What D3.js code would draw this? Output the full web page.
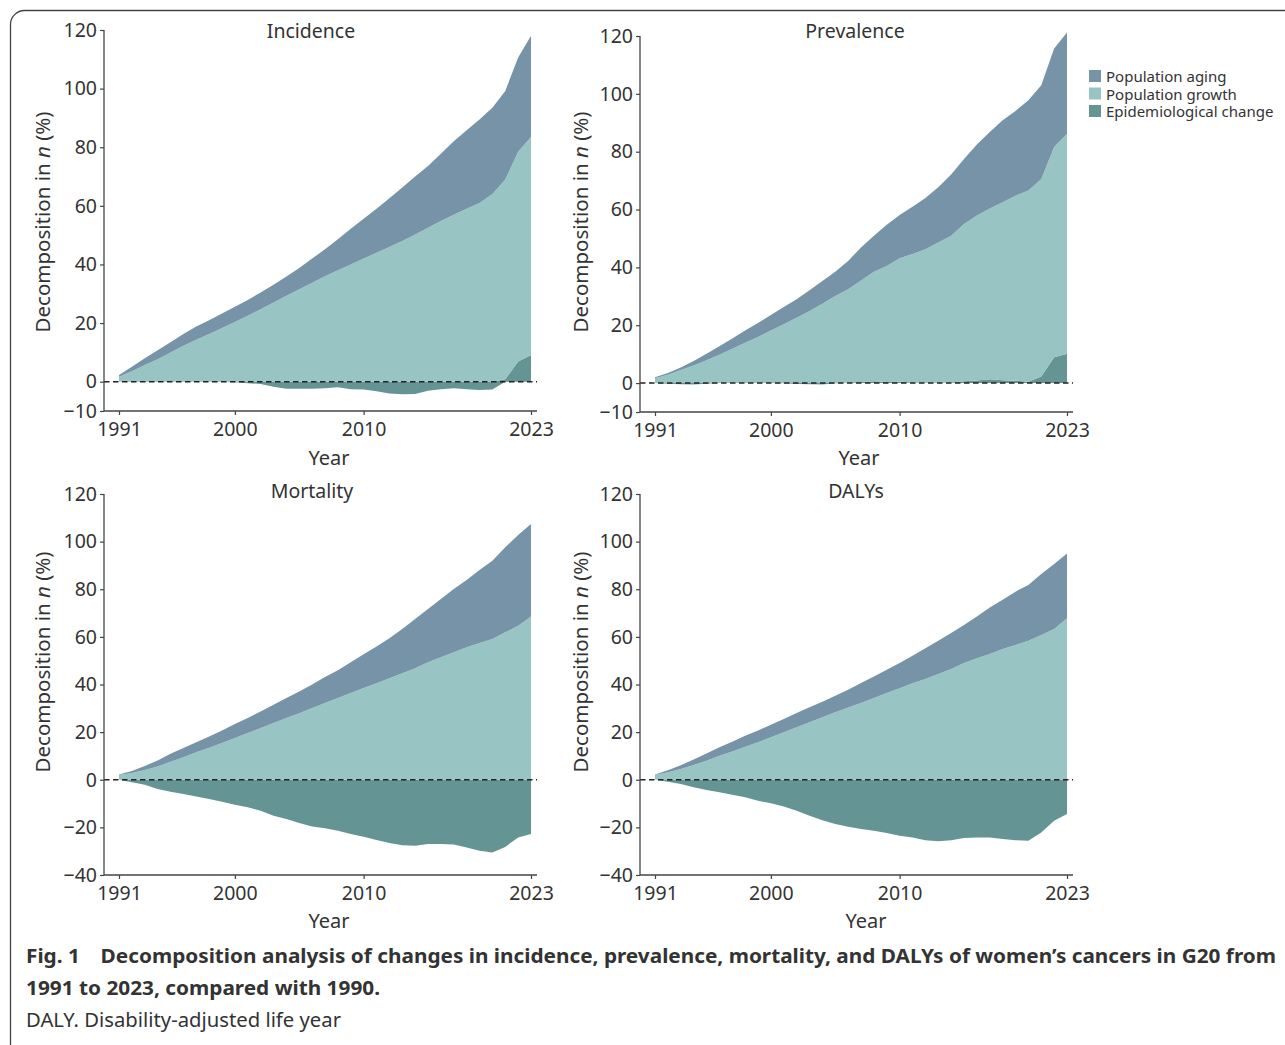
<!DOCTYPE html>
<html>
<head>
<meta charset="utf-8">
<script src="https://cdn.jsdelivr.net/npm/d3@7"></script>
<style>
  body { margin: 0; background: #fff; }
  svg { display: block; }
  text { font-family: "Noto Sans", "Open Sans", sans-serif; fill: #333; }
</style>
</head>
<body>
<svg id="chart" width="1285" height="1045"></svg>
<script>
// years on the x axis
const years = [1991, 1992, 1993, 1994, 1995, 1996, 1997, 1998, 1999, 2000,
  2001, 2002, 2003, 2004, 2005, 2006, 2007, 2008, 2009, 2010,
  2011, 2012, 2013, 2014, 2015, 2016, 2017, 2018, 2019, 2020,
  2021, 2022, 2023];

const seriesNames = ["Population aging", "Population growth", "Epidemiological change"];
const xTicks = [1991, 2000, 2010, 2023];
const yTicksTop = [-10, 0, 20, 40, 60, 80, 100, 120];
const yTicksBottom = [-40, -20, 0, 20, 40, 60, 80, 100, 120];

// Incidence
const incAging = [0.6, 1.5, 2.3, 3.0, 3.5, 4.0, 4.5, 4.7, 5.0, 5.2, 5.4, 5.7, 6.1, 6.6, 7.3, 8.2, 9.2,
  10.6, 12.2, 13.6, 15.0, 16.6, 18.3, 19.8, 21.1, 23.0, 25.0, 26.8, 28.5, 29.5, 30.2, 32.1, 34.5];
const incGrowth = [1.7, 3.6, 5.7, 7.7, 10.0, 12.3, 14.3, 16.3, 18.3, 20.4, 22.5, 24.7, 27.0, 29.3, 31.5, 33.8, 36.0,
  38.0, 40.0, 42.0, 44.0, 46.0, 48.0, 50.2, 52.5, 54.8, 57.0, 59.0, 61.0, 64.0, 68.2, 71.6, 74.4];
const incEpi = [0, -0.1, -0.1, -0.1, 0, 0, 0, 0, -0.1, -0.2, -0.5, -0.8, -1.7, -2.4, -2.4, -2.4, -2.2,
  -1.9, -2.6, -2.7, -3.3, -4.0, -4.3, -4.2, -3.1, -2.6, -2.2, -2.6, -2.8, -2.7, 0.8, 6.9, 9.1];

// Prevalence
const prvAging = [0.3, 0.6, 0.9, 1.5, 2.2, 2.9, 3.5, 4.3, 4.9, 5.3, 6.0, 6.4, 7.2, 7.9, 8.4, 9.8, 11.4,
  12.4, 14.2, 14.9, 16.4, 17.7, 19.1, 21.2, 22.5, 24.6, 26.4, 28.4, 29.3, 31.2, 32.4, 34.1, 35.0];
const prvGrowth = [1.7, 2.9, 4.5, 6.1, 7.9, 9.8, 11.9, 13.9, 15.9, 18.2, 20.3, 22.6, 24.9, 27.4, 30.1, 32.2, 35.1,
  37.9, 40.1, 42.7, 44.4, 46.3, 48.6, 50.7, 54.4, 57.0, 59.1, 61.5, 64.0, 66.1, 68.3, 72.7, 76.1];
const prvEpi = [0, -0.2, -0.4, -0.5, -0.2, 0, 0, 0, 0, 0, -0.1, -0.3, -0.4, -0.5, -0.1, 0.2, 0.4,
  0.6, 0.4, 0.5, 0.2, 0, 0, 0.2, 0.6, 0.9, 1.3, 1.0, 0.8, 0.5, 2.3, 8.9, 10.1];

// Mortality
const morAging = [0.2, 0.9, 1.7, 2.5, 3.3, 3.9, 4.3, 4.8, 5.3, 5.9, 6.3, 7.0, 7.7, 8.4, 9.2, 9.9, 10.9,
  11.7, 12.9, 14.2, 15.5, 16.8, 18.6, 20.7, 22.4, 24.5, 26.6, 28.3, 30.7, 32.9, 35.7, 38.1, 38.8];
const morGrowth = [2.0, 2.8, 4.1, 5.6, 7.6, 9.4, 11.5, 13.4, 15.4, 17.5, 19.6, 21.7, 23.8, 25.9, 27.9, 30.1, 32.2,
  34.3, 36.4, 38.5, 40.5, 42.6, 44.7, 46.8, 49.3, 51.4, 53.5, 55.6, 57.4, 59.1, 61.9, 64.7, 68.6];
const morEpi = [0, -1.1, -2.1, -3.9, -5.0, -6.0, -7.0, -8.1, -9.2, -10.5, -11.6, -13.0, -15.1, -16.5, -18.2, -19.6, -20.4,
  -21.4, -22.8, -23.9, -25.3, -26.6, -27.5, -27.7, -27.0, -27.0, -27.2, -28.4, -29.8, -30.5, -28.2, -24.2, -22.8];

// DALYs
const dalAging = [0.2, 0.9, 1.6, 2.3, 3.0, 3.6, 4.1, 4.6, 5.0, 5.2, 5.6, 6.0, 6.3, 6.6, 7.0, 7.5, 8.4,
  9.1, 9.8, 10.6, 11.6, 12.9, 14.0, 15.1, 16.0, 17.6, 19.5, 20.7, 22.4, 23.4, 25.6, 27.3, 27.2];
const dalGrowth = [2.0, 3.1, 4.5, 6.2, 8.0, 10.1, 11.9, 13.9, 15.7, 17.9, 19.9, 22.0, 24.1, 26.2, 28.3, 30.3, 32.2,
  34.3, 36.4, 38.4, 40.5, 42.3, 44.4, 46.5, 49.0, 51.0, 52.8, 54.9, 56.6, 58.4, 60.8, 63.3, 67.8];
const dalEpi = [0, -0.8, -1.8, -3.2, -4.3, -5.3, -6.3, -7.4, -8.8, -9.9, -11.2, -13.0, -15.1, -17.0, -18.6, -19.7, -20.7,
  -21.4, -22.4, -23.5, -24.2, -25.4, -25.8, -25.4, -24.5, -24.2, -24.2, -24.9, -25.4, -25.6, -22.1, -17.2, -14.4];

const colors = { aging: "#7793a7", growth: "#99c4c4", epi: "#649594" };

const panels = [
  { title: "Incidence", aging: incAging, growth: incGrowth, epi: incEpi, yDomain: [-10, 120], yTicks: yTicksTop,
    left: 104, x0: 119, x1: 531, xEnd: 537, yTop: 30, yBot: 411, titleX: 311, titleY: 30, yearX: 329, yearY: 457, labX: 42, labY: 222 },
  { title: "Prevalence", aging: prvAging, growth: prvGrowth, epi: prvEpi, yDomain: [-10, 120], yTicks: yTicksTop,
    left: 640, x0: 655, x1: 1067, xEnd: 1073, yTop: 36, yBot: 412, titleX: 855, titleY: 30, yearX: 859, yearY: 457, labX: 580, labY: 222 },
  { title: "Mortality", aging: morAging, growth: morGrowth, epi: morEpi, yDomain: [-40, 120], yTicks: yTicksBottom,
    left: 104, x0: 119, x1: 531, xEnd: 537, yTop: 494, yBot: 875, titleX: 312, titleY: 490, yearX: 329, yearY: 920, labX: 42, labY: 662 },
  { title: "DALYs", aging: dalAging, growth: dalGrowth, epi: dalEpi, yDomain: [-40, 120], yTicks: yTicksBottom,
    left: 640, x0: 655, x1: 1067, xEnd: 1073, yTop: 494, yBot: 875, titleX: 856, titleY: 490, yearX: 866, yearY: 920, labX: 580, labY: 662 }
];

const svg = d3.select("#chart");

// frame around the figure
svg.append("rect")
  .attr("x", 10.5).attr("y", 10.5)
  .attr("width", 1320).attr("height", 1060)
  .attr("rx", 14)
  .attr("fill", "none")
  .attr("stroke", "#444")
  .attr("stroke-width", 1.3);

const stack = d3.stack()
  .keys(["epi", "growth", "aging"])
  .offset(d3.stackOffsetDiverging);

panels.forEach(function (p) {
  let rows = years.map((yr, i) => ({ year: yr, aging: p.aging[i], growth: p.growth[i], epi: p.epi[i] }));
  let layers = stack(rows);

  let x = d3.scaleLinear().domain([years[0], years[years.length - 1]]).range([p.x0, p.x1]);
  let y = d3.scaleLinear().domain(p.yDomain).range([p.yBot, p.yTop]);

  let area = d3.area()
    .x(d => x(d.data.year))
    .y0(d => y(d[0]))
    .y1(d => y(d[1]));

  let g = svg.append("g");

  g.selectAll("path.layer")
    .data(layers)
    .enter()
    .append("path")
    .attr("class", "layer")
    .attr("d", area)
    .attr("fill", d => colors[d.key]);

  // zero reference line
  g.append("line")
    .attr("x1", p.left).attr("x2", p.xEnd)
    .attr("y1", y(0)).attr("y2", y(0))
    .attr("stroke", "#222")
    .attr("stroke-width", 1.5)
    .attr("stroke-dasharray", "5.5,3.5");

  // y axis
  let yAxis = g.append("g")
    .attr("transform", "translate(" + p.left + ",0)")
    .call(d3.axisLeft(y).tickValues(p.yTicks).tickSize(4).tickPadding(3).tickSizeOuter(0));
  yAxis.select(".domain").remove();
  yAxis.append("line")
    .attr("x1", 0).attr("x2", 0)
    .attr("y1", p.yTop).attr("y2", p.yBot)
    .attr("stroke", "#444").attr("stroke-width", 1.3);

  // x axis
  let xAxis = g.append("g")
    .attr("transform", "translate(0," + p.yBot + ")")
    .call(d3.axisBottom(x).tickValues(xTicks).tickFormat(d3.format("d")).tickSize(4).tickPadding(7).tickSizeOuter(0));
  xAxis.select(".domain").remove();
  xAxis.append("line")
    .attr("x1", p.left).attr("x2", p.xEnd)
    .attr("y1", 0).attr("y2", 0)
    .attr("stroke", "#444").attr("stroke-width", 1.3);

  g.selectAll(".tick line").attr("stroke", "#444").attr("stroke-width", 1.2);
  g.selectAll(".tick text")
    .style("font-family", "'Noto Sans', sans-serif")
    .style("font-size", "19.5px")
    .attr("fill", "#333");

  // title
  g.append("text")
    .attr("x", p.titleX).attr("y", p.titleY)
    .attr("text-anchor", "middle")
    .attr("dominant-baseline", "central")
    .style("font-size", "19.5px")
    .text(p.title);

  // x label
  g.append("text")
    .attr("x", p.yearX).attr("y", p.yearY)
    .attr("text-anchor", "middle")
    .attr("dominant-baseline", "central")
    .style("font-size", "20px")
    .text("Year");

  // y label
  let yl = g.append("text")
    .attr("transform", "translate(" + p.labX + "," + p.labY + ") rotate(-90)")
    .attr("text-anchor", "middle")
    .attr("dominant-baseline", "central")
    .style("font-size", "20.5px");
  yl.append("tspan").text("Decomposition in ");
  yl.append("tspan").style("font-style", "italic").text("n");
  yl.append("tspan").text(" (%)");
});

// legend
const legendKeys = ["aging", "growth", "epi"];
const legend = svg.append("g").attr("transform", "translate(1089,76)");
legendKeys.forEach(function (k, i) {
  legend.append("rect")
    .attr("x", 0).attr("y", i * 17.5 - 6)
    .attr("width", 12).attr("height", 12)
    .attr("fill", colors[k]);
  legend.append("text")
    .attr("x", 17).attr("y", i * 17.5)
    .attr("dominant-baseline", "central")
    .style("font-size", "15px")
    .text(seriesNames[i]);
});

// caption
svg.append("text")
  .attr("x", 26).attr("y", 963)
  .attr("textLength", 1250)
  .attr("lengthAdjust", "spacingAndGlyphs")
  .style("font-size", "20px")
  .style("font-weight", "bold")
  .attr("fill", "#1a1a1a")
  .text("Fig. 1\u2003Decomposition analysis of changes in incidence, prevalence, mortality, and DALYs of women\u2019s cancers in G20 from");
svg.append("text")
  .attr("x", 26).attr("y", 995)
  .attr("textLength", 354)
  .attr("lengthAdjust", "spacingAndGlyphs")
  .style("font-size", "20px")
  .style("font-weight", "bold")
  .attr("fill", "#1a1a1a")
  .text("1991 to 2023, compared with 1990.");
svg.append("text")
  .attr("x", 26).attr("y", 1027)
  .attr("textLength", 315)
  .attr("lengthAdjust", "spacingAndGlyphs")
  .style("font-size", "20px")
  .attr("fill", "#222")
  .text("DALY. Disability-adjusted life year");
</script>
</body>
</html>
